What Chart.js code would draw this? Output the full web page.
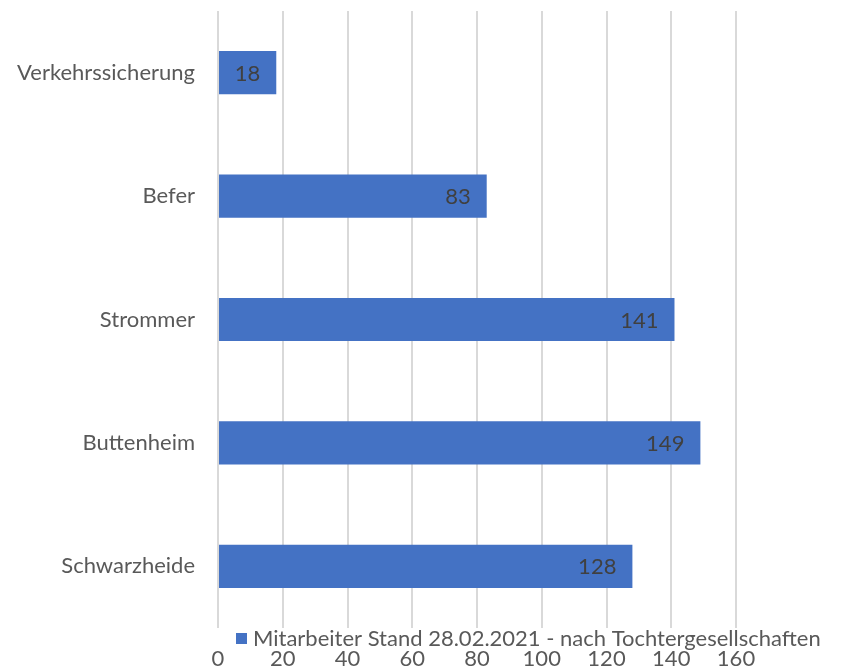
<!DOCTYPE html>
<html>
<head>
<meta charset="utf-8">
<script src="https://cdn.jsdelivr.net/npm/chart.js@4.4.1/dist/chart.umd.min.js"></script>
<style>
  html, body { margin: 0; padding: 0; background: #fff; }
  #wrap { width: 845px; height: 672px; }
</style>
</head>
<body>
<div id="wrap"><canvas id="chart" width="845" height="672"></canvas></div>
<script>
const categories = ['Verkehrssicherung', 'Befer', 'Strommer', 'Buttenheim', 'Schwarzheide'];
const employees = [18, 83, 141, 149, 128];
const seriesLabel = 'Mitarbeiter Stand 28.02.2021 - nach Tochtergesellschaften';
const xTicks = [0, 20, 40, 60, 80, 100, 120, 140, 160];

const FONT = 'Lato, "Open Sans", sans-serif';
const FONT_SIZE = 22;
const barColor = '#4472C4';
const textColor = '#595959';

// value labels drawn at the inner end of each bar
const valueLabels = {
  id: 'valueLabels',
  afterDatasetsDraw(chart) {
    const ctx = chart.ctx;
    const meta = chart.getDatasetMeta(0);
    ctx.save();
    ctx.font = FONT_SIZE + 'px ' + FONT;
    ctx.fillStyle = '#404040';
    ctx.textAlign = 'right';
    ctx.textBaseline = 'middle';
    meta.data.forEach((bar, i) => {
      ctx.fillText(String(employees[i]), bar.x - 16, bar.y + 1);
    });
    ctx.restore();
  }
};

// legend placed between plot and tick labels, like the original
const bottomLegend = {
  id: 'bottomLegend',
  afterDraw(chart) {
    const ctx = chart.ctx;
    const y = chart.chartArea.bottom + 10;
    ctx.save();
    ctx.fillStyle = barColor;
    ctx.fillRect(236, y - 5, 11, 11);
    ctx.font = FONT_SIZE + 'px ' + FONT;
    ctx.fillStyle = textColor;
    ctx.textAlign = 'left';
    ctx.textBaseline = 'middle';
    ctx.fillText(seriesLabel, 253, y + 1);
    ctx.restore();
  }
};

new Chart(document.getElementById('chart'), {
  type: 'bar',
  data: {
    labels: categories,
    datasets: [{
      label: seriesLabel,
      data: employees,
      backgroundColor: barColor,
      borderWidth: 0,
      barPercentage: 0.7,
      categoryPercentage: 0.5
    }]
  },
  options: {
    indexAxis: 'y',
    responsive: false,
    animation: false,
    devicePixelRatio: 1,
    layout: { padding: { top: 11, right: 109, bottom: 0, left: 0 } },
    plugins: {
      legend: { display: false },
      tooltip: { enabled: false }
    },
    scales: {
      x: {
        min: 0,
        max: 160,
        afterBuildTicks(axis) {
          axis.ticks = xTicks.map(v => ({ value: v }));
        },
        afterFit(axis) {
          axis.height = 44;
          axis.paddingTop = 0;
          axis.paddingBottom = 0;
        },
        grid: { color: '#d9d9d9', lineWidth: 2, drawTicks: false },
        border: { display: false },
        ticks: {
          padding: 18,
          maxRotation: 0,
          color: textColor,
          font: { family: FONT, size: FONT_SIZE }
        }
      },
      y: {
        grid: { display: false, drawTicks: false },
        border: { display: false },
        afterFit(axis) {
          axis.width = 218;
          axis.paddingTop = 0;
          axis.paddingBottom = 0;
        },
        ticks: {
          padding: 23,
          color: textColor,
          font: { family: FONT, size: FONT_SIZE }
        }
      }
    }
  },
  plugins: [valueLabels, bottomLegend]
});
</script>
</body>
</html>
